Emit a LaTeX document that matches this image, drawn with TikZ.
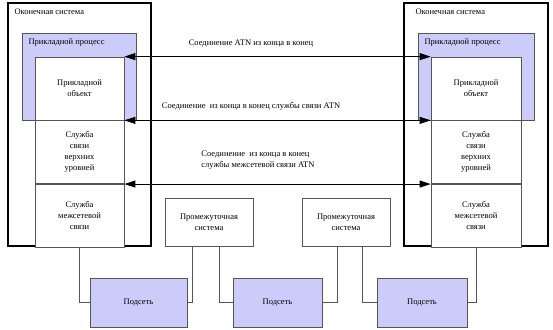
\documentclass[tikz,border=0pt]{standalone}
\usepackage{fontspec}
\setmainfont{Liberation Serif}
\usetikzlibrary{positioning,arrows.meta,calc}
\definecolor{SubBlue}{RGB}{204,204,250}
\definecolor{LineGray}{RGB}{85,85,85}

\begin{document}
\begin{tikzpicture}[
    x=1pt, y=-1pt,
    font=\fontsize{8.5}{11}\selectfont,
    sysbox/.style={
      draw=black,
      line width=1.5pt,
      fill=white,
      inner sep=0pt
    },
    procbox/.style={
      draw=LineGray,
      line width=0.7pt,
      fill=SubBlue,
      inner sep=0pt
    },
    layerbox/.style={
      draw=LineGray,
      line width=0.7pt,
      fill=white,
      minimum width=89pt,
      minimum height=63pt,
      inner sep=0pt,
      align=center
    },
    midbox/.style={
      draw=LineGray,
      line width=0.7pt,
      fill=white,
      minimum width=88pt,
      minimum height=48pt,
      align=center
    },
    netbox/.style={
      draw=LineGray,
      line width=0.7pt,
      fill=SubBlue,
      minimum height=49pt,
      align=center
    },
    atnarrow/.style={
      {Triangle[length=11pt,width=7pt]}-{Triangle[length=11pt,width=7pt]},
      line width=0.8pt,
      black
    },
    link/.style={
      line width=0.7pt,
      LineGray
    }
  ]
  \useasboundingbox (0,0) rectangle (553,329);

  % оконечные системы
  \node[sysbox, minimum width=143pt, minimum height=243pt] (leftsys) at (79.5,124.5) {};
  \node[sysbox, minimum width=144pt, minimum height=243pt] (rightsys) at (476,124.5) {};
  \node[anchor=west] (leftsystxt) at (11,12) {Оконечная система};
  \node[anchor=west] (rightsystxt) at (412,12) {Оконечная система};

  % прикладные процессы
  \node[procbox, minimum width=114pt, minimum height=87pt] (leftproc) at (79,76.5) {};
  \node[procbox, minimum width=116pt, minimum height=87pt] (rightproc) at (476,76.5) {};
  \node[anchor=west] (leftproctxt) at (25,42.5) {Прикладной процесс};
  \node[anchor=west] (rightproctxt) at (421,42.5) {Прикладной процесс};

  % уровни слева
  \node[layerbox] (leftobj) at (79.5,88.5) {Прикладной\\объект};
  \node[layerbox, below=0pt of leftobj] (leftupper) {Служба\\связи\\верхних\\уровней};
  \node[layerbox, below=0pt of leftupper] (leftnet) {Служба\\межсетевой\\связи};

  % уровни справа
  \node[layerbox, minimum width=90pt] (rightobj) at (476,88.5) {Прикладной\\объект};
  \node[layerbox, minimum width=90pt, below=0pt of rightobj] (rightupper) {Служба\\связи\\верхних\\уровней};
  \node[layerbox, minimum width=90pt, below=0pt of rightupper] (rightnet) {Служба\\межсетевой\\связи};

  % промежуточные системы и подсети
  \node[midbox] (inter1) at (209,222) {Промежуточная\\система};
  \node[midbox] (inter2) at (346,222) {Промежуточная\\система};
  \node[netbox, minimum width=97pt] (sub1) at (138.5,302.5) {Подсеть};
  \node[netbox, minimum width=89pt] (sub2) at (277.5,302.5) {Подсеть};
  \node[netbox, minimum width=90pt] (sub3) at (422,302.5) {Подсеть};

  % соединения из конца в конец
  \draw[atnarrow] (leftobj.north east) -- (rightobj.north west);
  \draw[atnarrow] (leftupper.north east) -- (rightupper.north west);
  \draw[atnarrow] (leftnet.north east) -- (rightnet.north west);
  \node (conn1) at (251,43.5) {Соединение ATN из конца в конец};
  \node (conn2) at (251,106.5) {Соединение\ \ из конца в конец службы связи ATN};
  \node[align=left] (conn3) at (258,160) {Соединение\ \ из конца в конец\\службы межсетевой связи ATN};

  % физические связи
  \draw[link] (leftnet.south) |- (sub1.west);
  \draw[link] (sub1.east) -| ($(inter1.south)+(-17,0)$);
  \draw[link] (sub2.west) -| ($(inter1.south)+(10,0)$);
  \draw[link] (sub2.east) -| ($(inter2.south)+(-9,0)$);
  \draw[link] (sub3.west) -| ($(inter2.south)+(16,0)$);
  \draw[link] (rightnet.south) |- (sub3.east);

\end{tikzpicture}
\end{document}
